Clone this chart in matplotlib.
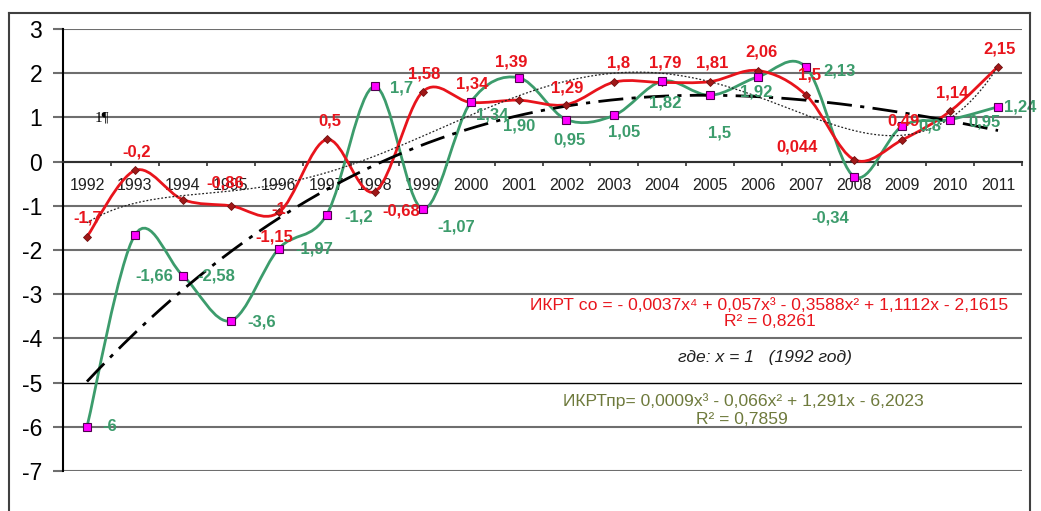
import numpy as np
import matplotlib
matplotlib.use('Agg')
import matplotlib.pyplot as plt
from matplotlib.path import Path
from matplotlib.patches import PathPatch
from matplotlib.lines import Line2D

plt.rcParams['font.family'] = ['Liberation Sans', 'DejaVu Sans']

# ================================ DATA ================================
years = [str(y) for y in range(1992, 2012)]
ikrt_so = [-1.7, -0.2, -0.86, -1.0, -1.15, 0.5, -0.68, 1.58, 1.34, 1.39,
           1.29, 1.8, 1.79, 1.81, 2.06, 1.5, 0.044, 0.49, 1.14, 2.15]
ikrt_pr = [-6, -1.66, -2.58, -3.6, -1.97, -1.2, 1.7, -1.07, 1.34, 1.90,
           0.95, 1.05, 1.82, 1.5, 1.92, 2.13, -0.34, 0.8, 0.95, 1.24]
labels_so = ['-1,7', '-0,2', '-0,86', '-1', '-1,15', '0,5', '-0,68', '1,58', '1,34', '1,39',
             '1,29', '1,8', '1,79', '1,81', '2,06', '1,5', '0,044', '0,49', '1,14', '2,15']
labels_pr = ['-6', '-1,66', '-2,58', '-3,6', '-1,97', '-1,2', '1,7', '-1,07', '1,34', '1,90',
             '0,95', '1,05', '1,82', '1,5', '1,92', '2,13', '-0,34', '0,8', '0,95', '1,24']
y_ticks = list(range(-7, 4))

# label offsets (pixels, y up) - layout only
off_so = [(1, 19), (2, 18), (42, 17), (48, -4), (-4, -25), (3, 18), (27, -19), (2, 18), (2, 18), (-7, 38),
          (1, 17), (4, 19), (3, 19), (2, 19), (3, 19), (3, 20), (-57, 13), (1, 19), (2, 18), (2, 18)]
off_pr = [(23, 0), (19, -41), (33, 0), (31, -1), (36, 0), (32, -2), (27, -2), (34, -18), (22, -13), (1, -48),
          (3, -20), (10, -17), (3, -22), (9, -38), (-2, -15), (33, -4), (-24, -41), (28, 0), (34, -2), (22, 0)]

RED = '#e8141c'
GREEN = '#3c9c6c'
OLIVE = '#6e7a3c'
W, H = 1041, 511


def smooth_path(xs, ys):
    # excel-like smoothed line: bezier with tangent (p[i+1]-p[i-1])/6
    pts = np.column_stack([xs, ys]).astype(float)
    n = len(pts)
    verts = [pts[0]]
    codes = [Path.MOVETO]
    for i in range(n - 1):
        p0 = pts[i - 1] if i > 0 else pts[i]
        p1 = pts[i]
        p2 = pts[i + 1]
        p3 = pts[i + 2] if i + 2 < n else pts[i + 1]
        verts += [p1 + (p2 - p0) / 6, p2 - (p3 - p1) / 6, p2]
        codes += [Path.CURVE4] * 3
    return Path(verts, codes)


fig = plt.figure(figsize=(W / 100, H / 100), dpi=100)
ax = fig.add_axes([63 / W, 1 - 471 / H, (1022 - 63) / W, (471 - 29) / H])

x = np.arange(len(years))

# series lines
ax.add_patch(PathPatch(smooth_path(x, ikrt_pr), fill=False, edgecolor=GREEN, lw=2, zorder=3))
ax.add_patch(PathPatch(smooth_path(x, ikrt_so), fill=False, edgecolor=RED, lw=2, zorder=4))

# trendlines
xf = np.linspace(1, len(years), 300)
c_pr = np.polyfit(x + 1, ikrt_pr, 3)
c_so = np.polyfit(x + 1, ikrt_so, 6)
ax.plot(xf - 1, np.polyval(c_pr, xf), color='black', lw=2, linestyle=(0, (9, 3, 1.5, 3)), zorder=5)
ax.plot(xf - 1, np.polyval(c_so, xf), color='#222222', lw=0.9, linestyle=(0, (1.5, 1.5)), zorder=5)

# markers
ax.plot(x, ikrt_so, linestyle='none', marker='D', ms=4, mfc='#a01818', mec='#701010', mew=0.6, zorder=6)
ax.plot(x, ikrt_pr, linestyle='none', marker='s', ms=5.2, mfc='#ff00ff', mec='#500050', mew=0.8, zorder=7)

# data labels
for i in range(len(years)):
    ax.annotate(labels_so[i], (x[i], ikrt_so[i]), xytext=off_so[i], textcoords='offset pixels',
                ha='center', va='center', color=RED, fontsize=12, fontweight='bold', zorder=8)
    ax.annotate(labels_pr[i], (x[i], ikrt_pr[i]), xytext=off_pr[i], textcoords='offset pixels',
                ha='center', va='center', color=GREEN, fontsize=12, fontweight='bold', zorder=8)

# axes
ax.set_xlim(-0.5, len(years) - 0.5)
ax.set_ylim(-7, 3)
ax.set_yticks(y_ticks)
ax.set_yticklabels([str(v) for v in y_ticks])
ax.yaxis.grid(True, color='#6e6e6e', lw=1.5)
for v, gl in zip(y_ticks, ax.get_ygridlines()):
    if v == -5:
        gl.set_color('black')
        gl.set_linewidth(1.0)
ax.tick_params(axis='y', length=7, width=1.5, color='#6e6e6e', labelsize=16.5, pad=8)

ax.spines['bottom'].set_position(('data', 0))
ax.spines['bottom'].set_linewidth(1.5)
ax.spines['bottom'].set_color('#303030')
ax.spines['left'].set_linewidth(1.5)
ax.spines['left'].set_color('black')
ax.spines['top'].set_visible(False)
ax.spines['right'].set_visible(False)
ax.set_xticks(np.arange(-0.5, len(years), 1))
ax.set_xticklabels([])
ax.set_xticks(x, minor=True)
ax.set_xticklabels(years, minor=True)
ax.tick_params(axis='x', which='major', length=3, width=1.2, direction='out', color='#303030')
ax.tick_params(axis='x', which='minor', length=0, pad=12, labelsize=11.5, labelcolor='#202020')
ax.set_axisbelow(True)

# annotation texts


def ftext(px, py, s, **kw):
    fig.text(px / W, 1 - py / H, s, ha='center', va='center', **kw)


ftext(769, 305, 'ИКРТ со = - 0,0037x⁴ + 0,057x³ - 0,3588x² + 1,1112x - 2,1615', color=RED, fontsize=12.6)
ftext(770, 322, 'R² = 0,8261', color=RED, fontsize=12.6)
ftext(765, 357, 'где: x = 1   (1992 год)', color='#202020', fontsize=12.6, style='italic')
ftext(743, 401, 'ИКРТпр= 0,0009x³ - 0,066x² + 1,291x - 6,2023', color=OLIVE, fontsize=12.6)
ftext(742, 420, 'R² = 0,7859', color=OLIVE, fontsize=12.6)
ftext(102, 118, '1¶', color='black', fontsize=11, family=['Liberation Serif', 'DejaVu Serif'])

# chart border
bc = '#404040'
fig.add_artist(Line2D([9 / W, 9 / W], [0, 1 - 13 / H], color=bc, lw=1.5))
fig.add_artist(Line2D([9 / W, 1030 / W], [1 - 13 / H, 1 - 13 / H], color=bc, lw=1.5))
fig.add_artist(Line2D([1030 / W, 1030 / W], [0, 1 - 13 / H], color=bc, lw=1.5))

fig.savefig('out.png', dpi=100)
